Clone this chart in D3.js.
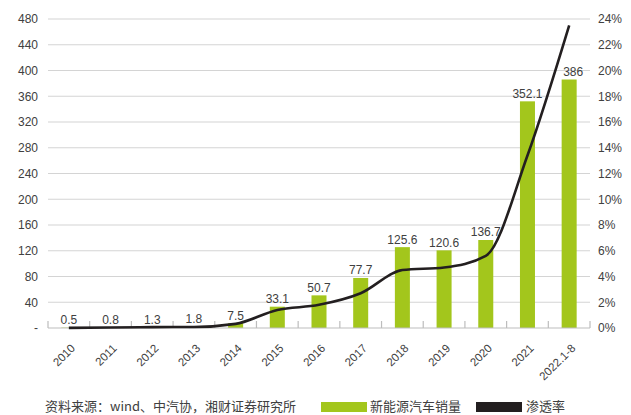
<!DOCTYPE html>
<html>
<head>
<meta charset="utf-8">
<script src="https://cdn.jsdelivr.net/npm/d3@7"></script>
<style>
  body { margin: 0; background: #fff; }
  svg { display: block; font-family: Arial, "Liberation Sans", sans-serif; }
</style>
</head>
<body>
<svg id="chart" width="631" height="415"></svg>
<script>
const categories = ["2010","2011","2012","2013","2014","2015","2016","2017","2018","2019","2020","2021","2022.1-8"];
const sales = [0.5, 0.8, 1.3, 1.8, 7.5, 33.1, 50.7, 77.7, 125.6, 120.6, 136.7, 352.1, 386];
const penetration = [0.01, 0.04, 0.07, 0.08, 0.32, 1.4, 1.8, 2.7, 4.5, 4.7, 5.6, 13.4, 23.5];
const leftTicks = [0, 40, 80, 120, 160, 200, 240, 280, 320, 360, 400, 440, 480];
const rightTicks = [0, 2, 4, 6, 8, 10, 12, 14, 16, 18, 20, 22, 24];
const seriesNames = ["新能源汽车销量", "渗透率"];
const sourceText = "资料来源：wind、中汽协，湘财证券研究所";

const svg = d3.select("#chart");
const L = 48, R = 590, T = 19, B = 328;
const green = "#a3c61c", dark = "#231f20", textColor = "#404040";
const cjk = "'Noto Sans CJK SC', sans-serif";

const x = d3.scaleBand().domain(categories).range([L, R]).paddingInner(0.64).paddingOuter(0.32);
const xb = d3.scaleBand().domain(categories).range([L, R]);
const y = d3.scaleLinear().domain([0, 480]).range([B, T]);
const y2 = d3.scaleLinear().domain([0, 24]).range([B, T]);

// gridlines
svg.append("g").selectAll("line").data(leftTicks.filter(d => d > 0)).join("line")
  .attr("x1", L).attr("x2", R).attr("y1", d => y(d)).attr("y2", d => y(d))
  .attr("stroke", "#d4d4d4").attr("stroke-width", 1.2);

// left axis labels
const yAxis = d3.axisLeft(y).tickValues(leftTicks).tickSize(0).tickPadding(10)
  .tickFormat(d => d === 0 ? "-" : d);
const gy = svg.append("g").attr("transform", `translate(${L},0)`).call(yAxis);
gy.select(".domain").remove();
gy.selectAll("text").attr("font-size", 12).attr("fill", textColor);

// right axis labels
const y2Axis = d3.axisRight(y2).tickValues(rightTicks).tickSize(0).tickPadding(8)
  .tickFormat(d => d + "%");
const gy2 = svg.append("g").attr("transform", `translate(${R},0)`).call(y2Axis);
gy2.select(".domain").remove();
gy2.selectAll("text").attr("font-size", 12).attr("fill", textColor);

// bars
svg.append("g").selectAll("rect").data(sales).join("rect")
  .attr("x", (d, i) => x(categories[i]))
  .attr("width", x.bandwidth())
  .attr("y", d => y(d))
  .attr("height", d => B - y(d))
  .attr("fill", green);

// x axis baseline and ticks
svg.append("line").attr("x1", L).attr("x2", R).attr("y1", B).attr("y2", B)
  .attr("stroke", "#bdbdbd").attr("stroke-width", 1.2);
const bounds = categories.map(c => xb(c)).concat([R]);
svg.append("g").selectAll("line").data(bounds).join("line")
  .attr("x1", d => d).attr("x2", d => d).attr("y1", B).attr("y2", B - 7)
  .attr("stroke", "#bdbdbd").attr("stroke-width", 1.2);

// x labels
svg.append("g").selectAll("text").data(categories).join("text")
  .attr("transform", d => `translate(${xb(d) + xb.bandwidth() / 2 + 7},${B + 21}) rotate(-45)`)
  .attr("text-anchor", "end")
  .attr("font-size", 11.5).attr("fill", textColor)
  .text(d => d);

// value labels
svg.append("g").selectAll("text").data(sales).join("text")
  .attr("x", (d, i) => x(categories[i]) + x.bandwidth() / 2 + (i === 12 ? 4 : 0))
  .attr("y", d => y(d) - 3.5)
  .attr("text-anchor", "middle")
  .attr("font-family", "'Liberation Sans Narrow', 'Arial Narrow', Arial, sans-serif")
  .attr("font-size", 12).attr("fill", textColor)
  .text(d => d);

// line
const line = d3.line()
  .x((d, i) => xb(categories[i]) + xb.bandwidth() / 2)
  .y(d => y2(d))
  .curve(d3.curveMonotoneX);
svg.append("path").datum(penetration).attr("d", line)
  .attr("fill", "none").attr("stroke", dark).attr("stroke-width", 2.6)
  .attr("stroke-linejoin", "round");

// source
svg.append("text").attr("x", 45).attr("y", 411)
  .attr("font-size", 13).attr("fill", textColor)
  .attr("font-family", cjk)
  .text(sourceText);

// legend
const leg = svg.append("g");
leg.append("rect").attr("x", 321).attr("y", 402).attr("width", 46).attr("height", 10).attr("fill", green);
leg.append("text").attr("x", 370).attr("y", 411)
  .attr("font-size", 13).attr("fill", textColor)
  .attr("font-family", cjk).text(seriesNames[0]);
leg.append("rect").attr("x", 476).attr("y", 402).attr("width", 46).attr("height", 10).attr("fill", dark);
leg.append("text").attr("x", 526).attr("y", 411)
  .attr("font-size", 13).attr("fill", textColor)
  .attr("font-family", cjk).text(seriesNames[1]);
</script>
</body>
</html>
